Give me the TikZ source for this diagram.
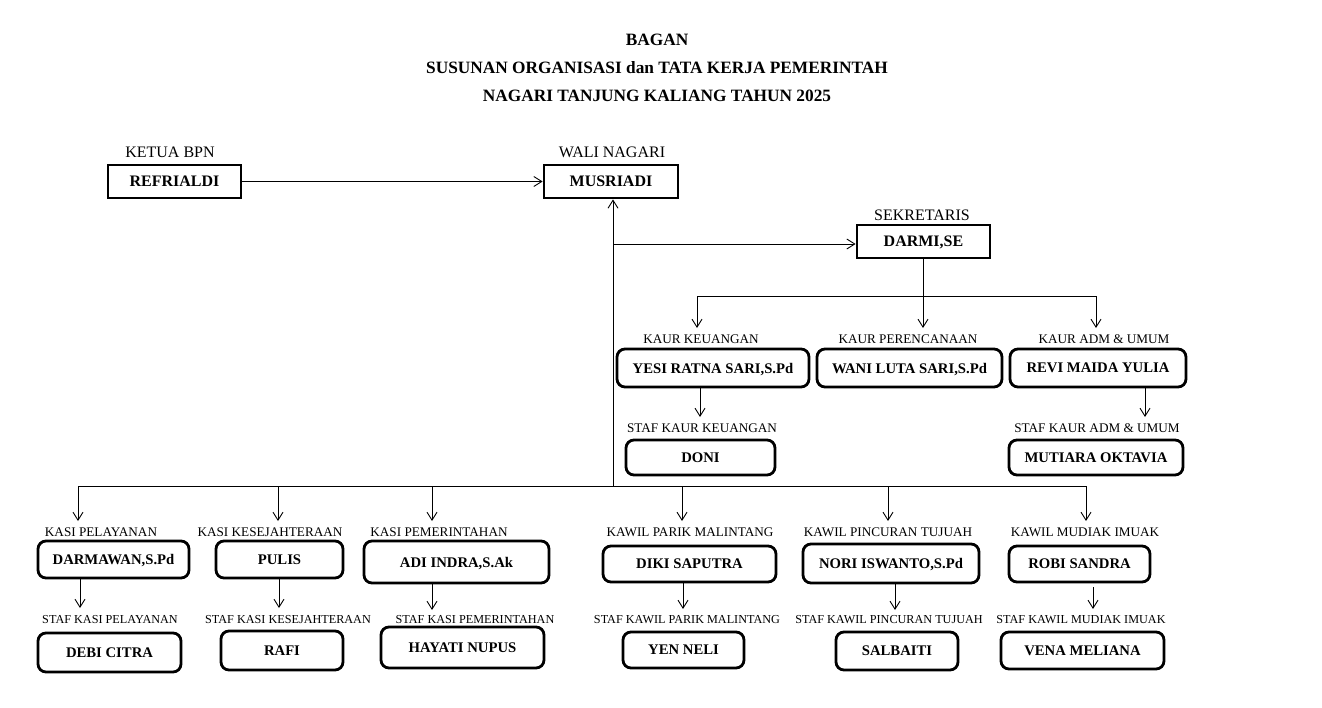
\documentclass[tikz,border=0pt]{standalone}
\usepackage{fontspec}
\setmainfont{Liberation Serif}
\usetikzlibrary{arrows.meta}
\begin{document}
\begin{tikzpicture}[x=1pt,y=-1pt,
  conn/.style={line width=0.9pt},
  arr/.style={line width=0.9pt,-{Straight Barb[length=8pt,width=10pt]}},
  sqbox/.style={draw, line width=2.8pt, inner sep=0pt, text depth=0pt, font=\bfseries\fontsize{16}{18}\selectfont},
  rbox/.style={draw, line width=2.8pt, rounded corners=8pt, inner sep=0pt, text depth=0pt, font=\bfseries\fontsize{14.7}{17}\selectfont},
  toplbl/.style={inner sep=0pt, font=\fontsize{16}{18}\selectfont},
  lbl/.style={inner sep=0pt, font=\fontsize{13.2}{15}\selectfont},
  slbl/.style={inner sep=0pt, font=\fontsize{12.2}{14}\selectfont},
  ttl/.style={inner sep=0pt, font=\bfseries\fontsize{17.3}{19}\selectfont}]
\fill[white] (0,0) rectangle (1322,707);
\useasboundingbox (0,0) rectangle (1322,707);

% title
\node[ttl] (t1) at (657,40) {BAGAN};
\node[ttl] (t2) at (657,68) {SUSUNAN ORGANISASI dan TATA KERJA PEMERINTAH};
\node[ttl] (t3) at (657,96) {NAGARI TANJUNG KALIANG TAHUN 2025};

% top boxes
\node[toplbl] (lrefri) at (170,152) {KETUA BPN};
\node[sqbox, minimum width=133pt, minimum height=33pt] (refri) at (174.5,181.5) {REFRIALDI};
\node[toplbl] (lmusri) at (612,152) {WALI NAGARI};
\node[sqbox, minimum width=134pt, minimum height=33pt] (musri) at (611,181.5) {MUSRIADI};
\node[toplbl] (ldarmi) at (922,215) {SEKRETARIS};
\node[sqbox, minimum width=133pt, minimum height=33pt] (darmi) at (923.5,241.5) {DARMI,SE};

% kaur
\node[lbl] (lyesi) at (701,339) {KAUR KEUANGAN};
\node[rbox, minimum width=192pt, minimum height=38pt] (yesi) at (713,368) {YESI RATNA SARI,S.Pd};
\node[lbl] (lwani) at (908,339) {KAUR PERENCANAAN};
\node[rbox, minimum width=185pt, minimum height=38pt] (wani) at (909.5,368) {WANI LUTA SARI,S.Pd};
\node[lbl] (lrevi) at (1104,339) {KAUR ADM \& UMUM};
\node[rbox, minimum width=176pt, minimum height=38pt] (revi) at (1098,368) {REVI MAIDA YULIA};
\node[lbl] (ldoni) at (702,428) {STAF KAUR KEUANGAN};
\node[rbox, minimum width=149pt, minimum height=35pt] (doni) at (700.5,457.5) {DONI};
\node[lbl] (lmut) at (1097,428) {STAF KAUR ADM \& UMUM};
\node[rbox, minimum width=174pt, minimum height=35pt] (mut) at (1096,457.5) {MUTIARA OKTAVIA};

% kasi / kawil
\node[lbl] (ldarw) at (101,532) {KASI PELAYANAN};
\node[rbox, minimum width=151pt, minimum height=37pt] (darw) at (113.5,559.5) {DARMAWAN,S.Pd};
\node[lbl] (lpulis) at (270,532) {KASI KESEJAHTERAAN};
\node[rbox, minimum width=127pt, minimum height=37pt] (pulis) at (279.5,559.5) {PULIS};
\node[lbl] (ladi) at (439,532) {KASI PEMERINTAHAN};
\node[rbox, minimum width=185pt, minimum height=42pt] (adi) at (456.5,562) {ADI INDRA,S.Ak};
\node[lbl] (ldiki) at (690,532) {KAWIL PARIK MALINTANG};
\node[rbox, minimum width=173pt, minimum height=36pt] (diki) at (689.5,564) {DIKI SAPUTRA};
\node[lbl] (lnori) at (888,532) {KAWIL PINCURAN TUJUAH};
\node[rbox, minimum width=176pt, minimum height=39pt] (nori) at (891,563.5) {NORI ISWANTO,S.Pd};
\node[lbl] (lrobi) at (1085,532) {KAWIL MUDIAK IMUAK};
\node[rbox, minimum width=141pt, minimum height=36pt] (robi) at (1079.5,564) {ROBI SANDRA};

% staf
\node[slbl] (ldebi) at (110,620) {STAF KASI PELAYANAN};
\node[rbox, minimum width=143pt, minimum height=39pt] (debi) at (109.5,652.5) {DEBI CITRA};
\node[slbl] (lrafi) at (288,620) {STAF KASI KESEJAHTERAAN};
\node[rbox, minimum width=122pt, minimum height=39pt] (rafi) at (282,650.5) {RAFI};
\node[slbl] (lhay) at (475,620) {STAF KASI PEMERINTAHAN};
\node[rbox, minimum width=163pt, minimum height=41pt] (hay) at (462.5,647.5) {HAYATI NUPUS};
\node[slbl] (lyen) at (687,620) {STAF KAWIL PARIK MALINTANG};
\node[rbox, minimum width=121pt, minimum height=36pt] (yen) at (683.5,650) {YEN NELI};
\node[slbl] (lsal) at (889,620) {STAF KAWIL PINCURAN TUJUAH};
\node[rbox, minimum width=122pt, minimum height=38pt] (sal) at (897,651) {SALBAITI};
\node[slbl] (lvena) at (1081,620) {STAF KAWIL MUDIAK IMUAK};
\node[rbox, minimum width=163pt, minimum height=37pt] (vena) at (1082.5,650.5) {VENA MELIANA};

% coordinates
\coordinate (junc) at (613,486);
\coordinate (sj) at (613,244);
\coordinate (kb1) at (697,296);
\coordinate (kb2) at (923,296);
\coordinate (kb3) at (1096,296);
\coordinate (ke1) at (697,328);
\coordinate (ke2) at (923,328);
\coordinate (ke3) at (1096,328);
\coordinate (sk1) at (700,417);
\coordinate (sk3) at (1145,417);
\foreach \n/\x in {1/78,2/278,3/432,4/682,5/888,6/1086}{
  \coordinate (bb\n) at (\x,486);
  \coordinate (be\n) at (\x,521);
}
\coordinate (s1) at (80,608);
\coordinate (s2) at (279,608);
\coordinate (s3) at (432,610);
\coordinate (s4) at (683,609);
\coordinate (s5) at (895,610);
\coordinate (s6) at (1093,609);

% connectors
\draw[arr] (refri.east) -- (musri.west);
\draw[arr] (junc) -- (junc |- musri.south);
\draw[arr] (sj) -- (darmi.west |- sj);
\draw[arr] (darmi.south -| kb2) -- (ke2);
\draw[conn] (kb1) -- (kb3);
\draw[arr] (kb1) -- (ke1);
\draw[arr] (kb3) -- (ke3);
\draw[arr] (yesi.south -| sk1) -- (sk1);
\draw[arr] (revi.south -| sk3) -- (sk3);
\draw[conn] (bb1) -- (bb6);
\foreach \n in {1,...,6}{\draw[arr] (bb\n) -- (be\n);}
\draw[arr] (darw.south -| s1) -- (s1);
\draw[arr] (pulis.south -| s2) -- (s2);
\draw[arr] (adi.south -| s3) -- (s3);
\draw[arr] (diki.south -| s4) -- (s4);
\draw[arr] (nori.south -| s5) -- (s5);
\draw[arr] ([yshift=-4pt]robi.south -| s6) -- (s6);
\end{tikzpicture}
\end{document}
